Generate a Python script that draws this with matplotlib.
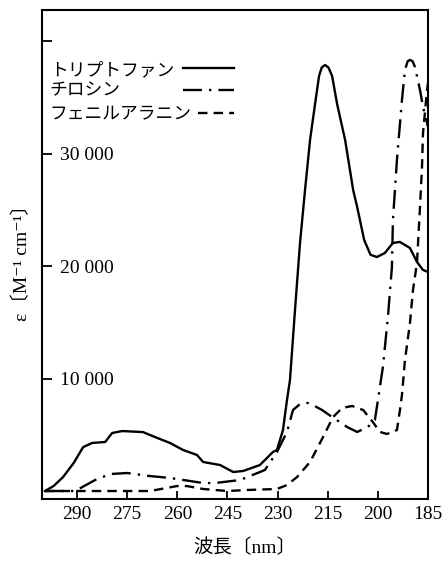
# UV absorption spectra of aromatic amino acids
import matplotlib
matplotlib.use("Agg")
import matplotlib.pyplot as plt

# Tryptophan (solid)
trp_nm = [299.6, 297.0, 294.2, 291.0, 288.2, 285.5, 281.6, 279.5, 276.5, 270.3, 266.7, 262.2,
          258.3, 254.1, 252.3, 247.2, 243.3, 240.3, 235.3, 231.4, 230.2, 228.4,
          227.2, 226.3, 224.8, 223.3, 221.8, 220.3, 218.8, 217.6, 216.8, 215.8, 214.8, 213.7,
          212.2, 209.8, 207.4, 206.2, 204.1, 202.2, 200.3, 197.9, 195.5, 193.4,
          190.4, 188.3, 186.5, 185.0]
trp_eps = [0, 450, 1240, 2500, 3900, 4270, 4360, 5160, 5330, 5240, 4800, 4270,
           3650, 3200, 2580, 2310, 1690, 1780, 2310, 3470, 3650, 5420,
           8090, 9870, 16090, 22050, 26760, 31200, 34400, 36900, 37650, 37870, 37650, 36900,
           34400, 31200, 26760, 25250, 22310, 21000, 20800, 21160, 22050, 22140,
           21600, 20360, 19650, 19470]

# Tyrosine (dash-dot)
tyr_nm = [299.6, 290.6, 284.6, 280.1, 275.0, 268.2, 262.2, 252.3, 248.7, 241.2,
          233.8, 230.2, 227.2, 225.4, 223.3, 222.0, 220.9, 219.2, 216.7, 213.7, 209.2, 206.2,
          203.0, 200.9, 200.3, 198.5, 197.0, 195.8, 195.5, 194.3, 192.8, 191.9, 191.1,
          190.4, 189.6, 188.9, 187.4, 186.5, 185.0]
tyr_eps = [0, 0, 980, 1510, 1600, 1330, 1160, 710, 710, 980,
           1870, 3470, 5250, 7200, 7730, 7850, 7820, 7600, 7200, 6580, 5690, 5250,
           5690, 6310, 7470, 11020, 15470, 19910, 24090, 29430, 34760, 37430, 38200,
           38320, 38200, 37690, 35650, 34140, 32360]

# Phenylalanine (dashed)
phe_nm = [299.6, 290.0, 275.0, 268.2, 260.1, 257.1, 252.3, 245.1, 239.1, 230.2,
          227.2, 224.2, 220.3, 216.4, 213.4, 210.7, 207.7, 204.4, 201.5, 199.4,
          197.3, 194.3, 193.4, 192.8, 191.9, 190.4, 189.5, 188.3, 187.4, 186.8,
          186.5, 185.3, 185.0]
phe_eps = [0, 0, 0, 0, 440, 440, 180, 0, 90, 180,
           530, 1240, 2580, 4800, 6580, 7380, 7560, 7200, 6130, 5250,
           5070, 5420, 7200, 8530, 11640, 14930, 17870, 20270, 25250, 28800,
           31820, 35650, 36270]

x_ticks = [290, 275, 260, 245, 230, 215, 200, 185]
y_ticks = [10000, 20000, 30000, 40000]
y_ticklabels = ["10 000", "20 000", "30 000", ""]

names = ["トリプトファン", "チロシン", "フェニルアラニン"]

serif = ["Liberation Serif", "DejaVu Serif", "Noto Sans CJK JP"]
jp = ["Noto Sans CJK JP", "DejaVu Sans"]

dashdot = (0, (8, 3, 1, 3))
dashed = (0, (4, 2.6))

fig = plt.figure(figsize=(4.44, 5.61), dpi=100)
ax = fig.add_axes([0.0946, 0.1105, 0.8694, 0.8717])

lw = 1.7
ax.plot(trp_nm, trp_eps, color="black", lw=lw, solid_joinstyle="round")
ax.plot(tyr_nm, tyr_eps, color="black", lw=lw, linestyle=dashdot)
ax.plot(phe_nm, phe_eps, color="black", lw=lw, linestyle=dashed)

ax.set_xlim(300.5, 185)
ax.set_ylim(-711, 42760)

for s in ax.spines.values():
    s.set_linewidth(1.5)

ax.set_xticks(x_ticks)
ax.set_xticklabels([str(t) for t in x_ticks], family=serif, fontsize=14)
ax.tick_params(axis="x", direction="in", length=6, width=1.3, pad=5)

ax.set_yticks(y_ticks)
ax.set_yticklabels(y_ticklabels, family=serif, fontsize=14)
ax.tick_params(axis="y", direction="in", length=7, width=1.3, pad=-13)
for lab in ax.get_yticklabels():
    lab.set_horizontalalignment("left")

# legend drawn by hand (text, then line sample)
text_y = [0.877, 0.836, 0.787]
line_y = [0.881, 0.836, 0.789]
line_x0 = [0.365, 0.365, 0.404]
styles = ["-", dashdot, dashed]
for i in range(3):
    ax.text(0.02, text_y[i], names[i], transform=ax.transAxes, family=jp,
            fontsize=12.8, va="center", ha="left")
    ax.plot([line_x0[i], 0.497], [line_y[i], line_y[i]], transform=ax.transAxes,
            color="black", lw=lw, linestyle=styles[i])

fig.text(0.048, 0.54, "ε〔M⁻¹ cm⁻¹〕", rotation=90, family=serif,
         fontsize=14, ha="center", va="center")
fig.text(0.552, 0.023, "波長〔nm〕", family=serif, fontsize=14,
         ha="center", va="center")

fig.savefig("out.png", dpi=100)
